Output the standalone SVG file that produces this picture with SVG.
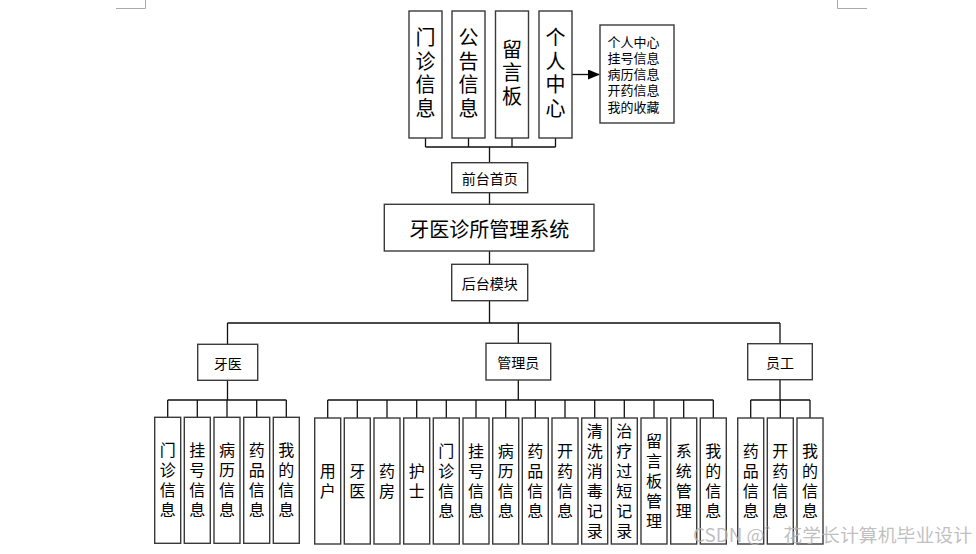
<svg xmlns="http://www.w3.org/2000/svg" width="976" height="554" viewBox="0 0 976 554">
<style>
.bx{fill:#fff;stroke:#3a3a3a;stroke-width:1.4}
.ln{fill:none;stroke:#111;stroke-width:1.3}
text{font-family:"Noto Sans CJK SC","Liberation Sans",sans-serif;fill:#000}
.v20{font-size:20px;text-anchor:middle;writing-mode:vertical-rl;text-orientation:upright;letter-spacing:3.5px}
.v16{font-size:16px;text-anchor:middle;writing-mode:vertical-rl;text-orientation:upright;letter-spacing:4px}
.t20{font-size:20px;text-anchor:middle;dominant-baseline:central}
.t14{font-size:14px;text-anchor:middle;dominant-baseline:central}
.t13{font-size:13px;dominant-baseline:central}
</style>
<defs>
<marker id="ah" markerWidth="12" markerHeight="10" refX="11" refY="5" orient="auto" markerUnits="userSpaceOnUse">
<path d="M0,0 L12,5 L0,10 Z" fill="#000"/>
</marker>
</defs>
<rect width="976" height="554" fill="#fff"/>
<g id="corners" stroke="#aaa" stroke-width="1" fill="none">
<path d="M116,8.5 H145.5 V0"/>
<path d="M837.5,0 V8.5 H867"/>
</g>
<g id="connectors">
<path class="ln" d="M425.5,138 V147 M468.5,138 V147 M512,138 V147 M555.5,138 V147 M425.5,147 H555.5 M489.5,147 V162.7"/>
<path class="ln" d="M489.5,192.7 V204.3 M489.5,251 V264.3 M489.5,300.7 V323"/>
<path class="ln" d="M227.5,323 H780 M227.5,323 V344.3 M518.3,323 V343.3 M780,323 V343.7"/>
<path class="ln" d="M227.5,380.3 V400 M167.7,400 H286.3 M167.7,400 V417.3 M197.3,400 V417.3 M227,400 V417.3 M256.7,400 V417.3 M286.3,400 V417.3"/>
<path class="ln" d="M518.3,380 V400 M327.7,400 H713.3 M327.7,400 V418 M357.3,400 V418 M387,400 V418 M416.7,400 V418 M446.3,400 V418 M476,400 V418 M505.7,400 V418 M535.3,400 V418 M565,400 V418 M594.7,400 V418 M624.3,400 V418 M654,400 V418 M683.7,400 V418 M713.3,400 V418"/>
<path class="ln" d="M780,379.7 V400 M750.7,400 H810 M750.7,400 V418 M780.3,400 V418 M810,400 V418"/>
<path class="ln" d="M572,74.5 H599" marker-end="url(#ah)"/>
</g>
<g id="n-menzhen"><rect class="bx" x="409" y="11" width="33" height="127"/><text class="v20" x="425.5" y="74.5">门诊信息</text></g>
<g id="n-gonggao"><rect class="bx" x="452" y="11" width="33" height="127"/><text class="v20" x="468.5" y="74.5">公告信息</text></g>
<g id="n-liuyan"><rect class="bx" x="495.5" y="11" width="33" height="127"/><text class="v20" x="512" y="74.5">留言板</text></g>
<g id="n-geren"><rect class="bx" x="539" y="11" width="33" height="127"/><text class="v20" x="555.5" y="74.5">个人中心</text></g>
<g id="n-geren-list"><rect class="bx" x="600" y="25" width="74" height="98"/><text class="t13"><tspan x="607.5" y="41">个人中心</tspan><tspan x="607.5" y="57">挂号信息</tspan><tspan x="607.5" y="73">病历信息</tspan><tspan x="607.5" y="89">开药信息</tspan><tspan x="607.5" y="106">我的收藏</tspan></text></g>
<g id="n-qiantai"><rect class="bx" x="451.7" y="162.7" width="76" height="30"/><text class="t14" x="489.7" y="178">前台首页</text></g>
<g id="n-main"><rect class="bx" x="384.3" y="204.3" width="209.7" height="46.7"/><text class="t20" x="489.2" y="228">牙医诊所管理系统</text></g>
<g id="n-houtai"><rect class="bx" x="451.7" y="264.3" width="76" height="36.4"/><text class="t14" x="489.7" y="283">后台模块</text></g>
<g id="n-yayi"><rect class="bx" x="197.7" y="344.3" width="60" height="36"/><text class="t14" x="227.7" y="362.5">牙医</text></g>
<g id="n-admin"><rect class="bx" x="486" y="343.3" width="64.7" height="36.7"/><text class="t14" x="518.3" y="362">管理员</text></g>
<g id="n-staff"><rect class="bx" x="747.7" y="343.7" width="64.6" height="36"/><text class="t14" x="780" y="362">员工</text></g>
<g id="g-yayi-leaves">
<g id="y1"><rect class="bx" x="154.7" y="417.3" width="26" height="126"/><text class="v16" x="167.7" y="482">门诊信息</text></g>
<g id="y2"><rect class="bx" x="184.3" y="417.3" width="26" height="126"/><text class="v16" x="197.3" y="482">挂号信息</text></g>
<g id="y3"><rect class="bx" x="214" y="417.3" width="26" height="126"/><text class="v16" x="227" y="482">病历信息</text></g>
<g id="y4"><rect class="bx" x="243.7" y="417.3" width="26" height="126"/><text class="v16" x="256.7" y="482">药品信息</text></g>
<g id="y5"><rect class="bx" x="273.3" y="417.3" width="26" height="126"/><text class="v16" x="286.3" y="482">我的信息</text></g>
</g>
<g id="g-admin-leaves">
<g id="a1"><rect class="bx" x="314.7" y="418" width="26" height="126"/><text class="v16" x="327.7" y="483">用户</text></g>
<g id="a2"><rect class="bx" x="344.3" y="418" width="26" height="126"/><text class="v16" x="357.3" y="483">牙医</text></g>
<g id="a3"><rect class="bx" x="374" y="418" width="26" height="126"/><text class="v16" x="387" y="483">药房</text></g>
<g id="a4"><rect class="bx" x="403.7" y="418" width="26" height="126"/><text class="v16" x="416.7" y="483">护士</text></g>
<g id="a5"><rect class="bx" x="433.3" y="418" width="26" height="126"/><text class="v16" x="446.3" y="483">门诊信息</text></g>
<g id="a6"><rect class="bx" x="463" y="418" width="26" height="126"/><text class="v16" x="476" y="483">挂号信息</text></g>
<g id="a7"><rect class="bx" x="492.7" y="418" width="26" height="126"/><text class="v16" x="505.7" y="483">病历信息</text></g>
<g id="a8"><rect class="bx" x="522.3" y="418" width="26" height="126"/><text class="v16" x="535.3" y="483">药品信息</text></g>
<g id="a9"><rect class="bx" x="552" y="418" width="26" height="126"/><text class="v16" x="565" y="483">开药信息</text></g>
<g id="a10"><rect class="bx" x="581.7" y="418" width="26" height="126"/><text class="v16" x="594.7" y="483">清洗消毒记录</text></g>
<g id="a11"><rect class="bx" x="611.3" y="418" width="26" height="126"/><text class="v16" x="624.3" y="483">治疗过短记录</text></g>
<g id="a12"><rect class="bx" x="641" y="418" width="26" height="126"/><text class="v16" x="654" y="483">留言板管理</text></g>
<g id="a13"><rect class="bx" x="670.7" y="418" width="26" height="126"/><text class="v16" x="683.7" y="483">系统管理</text></g>
<g id="a14"><rect class="bx" x="700.3" y="418" width="26" height="126"/><text class="v16" x="713.3" y="483">我的信息</text></g>
</g>
<g id="g-staff-leaves">
<g id="s1"><rect class="bx" x="737.7" y="418" width="26" height="126"/><text class="v16" x="750.7" y="483">药品信息</text></g>
<g id="s2"><rect class="bx" x="767.3" y="418" width="26" height="126"/><text class="v16" x="780.3" y="483">开药信息</text></g>
<g id="s3"><rect class="bx" x="797" y="418" width="26" height="126"/><text class="v16" x="810" y="483">我的信息</text></g>
</g>
<text x="693" y="542" textLength="279" lengthAdjust="spacingAndGlyphs" style="font-size:18px;fill:#b4b4b4;fill-opacity:0.85">CSDN @゛花学长计算机毕业设计</text>
</svg>
